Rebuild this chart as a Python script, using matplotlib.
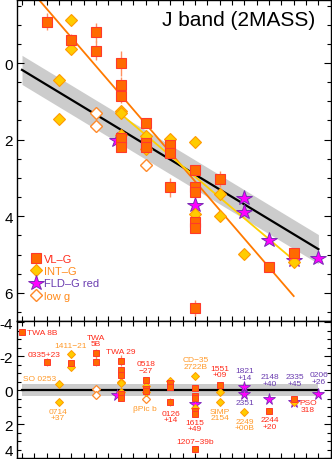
import matplotlib
matplotlib.use('Agg')
import matplotlib.pyplot as plt
from matplotlib.lines import Line2D
from matplotlib.ticker import MultipleLocator, NullFormatter
import numpy as np

plt.rcParams['font.family'] = ['Liberation Sans', 'DejaVu Sans']
plt.rcParams['axes.unicode_minus'] = False

# spectral type: M6 = 6, L0 = 10, L8 = 18 ; J absolute mag offsets
vlg_spt = [7, 8, 9, 9, 10, 10, 10, 10, 10, 11, 11, 11, 12, 12, 12, 13, 13, 13, 13, 13, 13, 14, 16, 17, 6]
vlg_mag = [-1.08, -0.61, -0.80, -0.32, 0.01, 0.57, 0.85, 1.97, 2.20, 1.57, 2.09, 2.20, 2.13, 2.35, 3.25,
           2.79, 3.25, 3.36, 4.16, 4.32, 6.40, 3.03, 5.32, 4.97, -3.23]
vlg_err = [0.22, 0.15, 0.25, 0.25, 0.33, 0.2, 0.2, 0.1, 0.1, 0.12, 0.1, 0.1, 0.1, 0.1, 0.24,
           0.1, 0.1, 0.1, 0.1, 0.1, 0.2, 0.2, 0.1, 0.13, 0.1]

intg_spt = [7.5, 7.5, 8, 8, 10, 10, 10, 11, 11, 12, 13, 13, 14, 14, 15, 17]
intg_mag = [0.44, 1.46, -1.13, -0.37, 1.25, 1.31, 1.88, 1.90, 2.25, 1.98, 2.07, 3.94, 3.42, 4.00, 4.99, 5.19]

lowg_spt = [9, 9, 11]
lowg_mag = [1.31, 1.65, 2.65]

fld_spt = [9.85, 13, 15, 15, 16, 17, 18]
fld_mag = [2.00, 3.72, 3.52, 3.90, 4.61, 5.15, 5.10]

# fits
fld_fit = (0.18, 0.39)       # value at M6, slope per subtype
fld_rms = 0.38
vlg_fit = (-2.165, 0.75)
vlg_range = (6, 17)
intg_fit = (1.33, 0.545)     # value at L0
intg_range = (9.9, 17)
fit_range = (6, 18)

# bottom panel labels
lab_text = ['TWA 8B', '0335+23', '1411\u221221', 'TWA\n5B', 'TWA 29', '0518\n\u221227', 'SO 0253', '0714\n+37',
            '\u03b2Pic b', '0126\n+14', 'CD\u221235\n2722B', '1615\n+49', '1207\u221239b', '1551\n+09',
            'SIMP\n2154', '1821\n+14', '2351', '2249\n+00B', '2148\n+40', '2244\n+20', '2335\n+45',
            'PSO\n318', '0206\n+26']
lab_kind = ['vl', 'vl', 'int', 'vl', 'vl', 'vl', 'int', 'int', 'int', 'vl', 'int', 'vl', 'vl', 'vl',
            'int', 'fld', 'fld', 'int', 'fld', 'vl', 'fld', 'vl', 'fld']
lab_x = [6.2, 6.9, 7.98, 9.0, 10.0, 11.02, 6.73, 7.46, 10.98, 12.03, 13.04, 13.0, 13.02, 14.02,
         14.02, 15.03, 15.03, 15.03, 16.04, 16.04, 17.05, 17.58, 18.02]
lab_y = [-3.41, -2.06, -2.59, -2.91, -2.29, -1.35, -0.68, 1.44, 1.06, 1.56, -1.6, 2.08, 3.04, -1.1,
         1.43, -0.93, 0.72, 2.03, -0.6, 1.94, -0.6, 0.94, -0.71]

sq_face, sq_edge = '#ff6a00', '#ff3a2a'
di_face, di_edge = '#ffcc00', '#ff9900'
st_face, st_edge = '#ff00ff', '#7a2ab5'
low_edge = '#ff8a2a'
err_col = '#ff9060'
txt_col = {'vl': '#ff2a1a', 'int': '#ff9a2a', 'fld': '#6a3cb0'}


def fld_line(s):
    return fld_fit[0] + fld_fit[1] * (np.asarray(s, float) - 6)


fig = plt.figure(figsize=(3.32, 4.60), dpi=100)
ax = fig.add_axes([16.7 / 332, 138 / 460, 314.3 / 332, 321 / 460])
ax2 = fig.add_axes([16.7 / 332, 1 / 460, 314.3 / 332, 137 / 460])

# top panel
xs = np.linspace(*fit_range, 50)
ax.fill_between(xs, fld_line(xs) - fld_rms, fld_line(xs) + fld_rms, color='#cccccc', lw=0, zorder=1)
ax.plot(xs, fld_line(xs), color='black', lw=1.6, zorder=2)
xv = np.linspace(*vlg_range, 50)
ax.plot(xv, vlg_fit[0] + vlg_fit[1] * (xv - 6), color='#ff7a00', lw=1.3, zorder=2)
xi = np.linspace(*intg_range, 50)
ax.plot(xi, intg_fit[0] + intg_fit[1] * (xi - 10), color='#ffcf00', lw=1.3, zorder=2)

ax.plot(fld_spt, fld_mag, ls='none', marker='*', ms=11.5, mfc=st_face, mec=st_edge, mew=0.7, zorder=3)
ax.plot(lowg_spt, lowg_mag, ls='none', marker='D', ms=6.3, mfc='white', mec=low_edge, mew=1.0, zorder=4)
ax.plot(intg_spt, intg_mag, ls='none', marker='D', ms=6.3, mfc=di_face, mec=di_edge, mew=0.8, zorder=4)
ax.errorbar(vlg_spt, vlg_mag, yerr=vlg_err, fmt='none', ecolor=err_col, elinewidth=1.0, capsize=0, zorder=5)
ax.plot(vlg_spt, vlg_mag, ls='none', marker='s', ms=6.8, mfc=sq_face, mec=sq_edge, mew=0.8, zorder=6)

ax.set_xlim(5.785, 18.51)
ax.set_ylim(6.736, -1.645)
ax.text(0.95, 0.922, 'J band (2MASS)', transform=ax.transAxes, ha='right', va='baseline', fontsize=15)

handles = [
    Line2D([], [], ls='none', marker='s', ms=6.8, mfc=sq_face, mec=sq_edge, mew=0.8),
    Line2D([], [], ls='none', marker='D', ms=6.3, mfc=di_face, mec=di_edge, mew=0.8),
    Line2D([], [], ls='none', marker='*', ms=11.5, mfc=st_face, mec=st_edge, mew=0.7),
    Line2D([], [], ls='none', marker='D', ms=6.3, mfc='white', mec=low_edge, mew=1.0),
]
ax.legend(handles, ['VL\u2013G', 'INT\u2013G', 'FLD\u2013G red', 'low g'], loc='upper left',
          bbox_to_anchor=(0.045, 0.21), frameon=False, fontsize=8, handlelength=0.9, handletextpad=0.3,
          labelspacing=0.22, borderpad=0, borderaxespad=0,
          labelcolor=[txt_col['vl'], '#ff8a1a', txt_col['fld'], '#ff8a1a'])

# bottom panel: residuals from the field relation
ax2.fill_between(xs, -fld_rms, fld_rms, color='#cccccc', lw=0, zorder=1)
ax2.plot(fit_range, [0, 0], color='black', lw=1.6, zorder=2)
res = lambda s, m: np.asarray(m) - fld_line(s)
ax2.plot(fld_spt, res(fld_spt, fld_mag), ls='none', marker='*', ms=8.5, mfc=st_face, mec=st_edge, mew=0.6, zorder=3)
ax2.plot(lowg_spt, res(lowg_spt, lowg_mag), ls='none', marker='D', ms=4.4, mfc='white', mec=low_edge, mew=0.9, zorder=4)
ax2.plot(intg_spt, res(intg_spt, intg_mag), ls='none', marker='D', ms=4.4, mfc=di_face, mec=di_edge, mew=0.7, zorder=4)
ax2.errorbar(vlg_spt, res(vlg_spt, vlg_mag), yerr=vlg_err, fmt='none', ecolor=err_col, elinewidth=0.9, capsize=0, zorder=5)
ax2.plot(vlg_spt, res(vlg_spt, vlg_mag), ls='none', marker='s', ms=4.8, mfc=sq_face, mec=sq_edge, mew=0.7, zorder=6)

for t, k, x, y in zip(lab_text, lab_kind, lab_x, lab_y):
    ax2.text(x, y, t, color=txt_col[k], fontsize=6, ha='left' if t == 'TWA 8B' else 'center',
             va='center', linespacing=0.9, zorder=7)

ax2.set_xlim(5.785, 18.51)
ax2.set_ylim(4.0, -4.06)

for a in (ax, ax2):
    a.xaxis.set_major_locator(MultipleLocator(0.5))
    a.xaxis.set_major_formatter(NullFormatter())
    a.yaxis.set_major_locator(MultipleLocator(2))
    a.yaxis.set_minor_locator(MultipleLocator(0.5))
    a.tick_params(which='both', direction='in', top=True, right=True, width=0.8, labelsize=11, pad=2.5)
    a.tick_params(axis='x', which='major', length=3.5)
    a.tick_params(axis='y', which='major', length=5)
    a.tick_params(axis='y', which='minor', length=3)
    for sp in a.spines.values():
        sp.set_linewidth(1.0)

# keep the lowest residual tick label inside the figure
fig.canvas.draw()
for tk in ax2.yaxis.get_major_ticks():
    if abs(tk.get_loc() - 4) < 1e-6:
        tk.label1.set_verticalalignment('bottom')

fig.savefig('out.png', dpi=100)
